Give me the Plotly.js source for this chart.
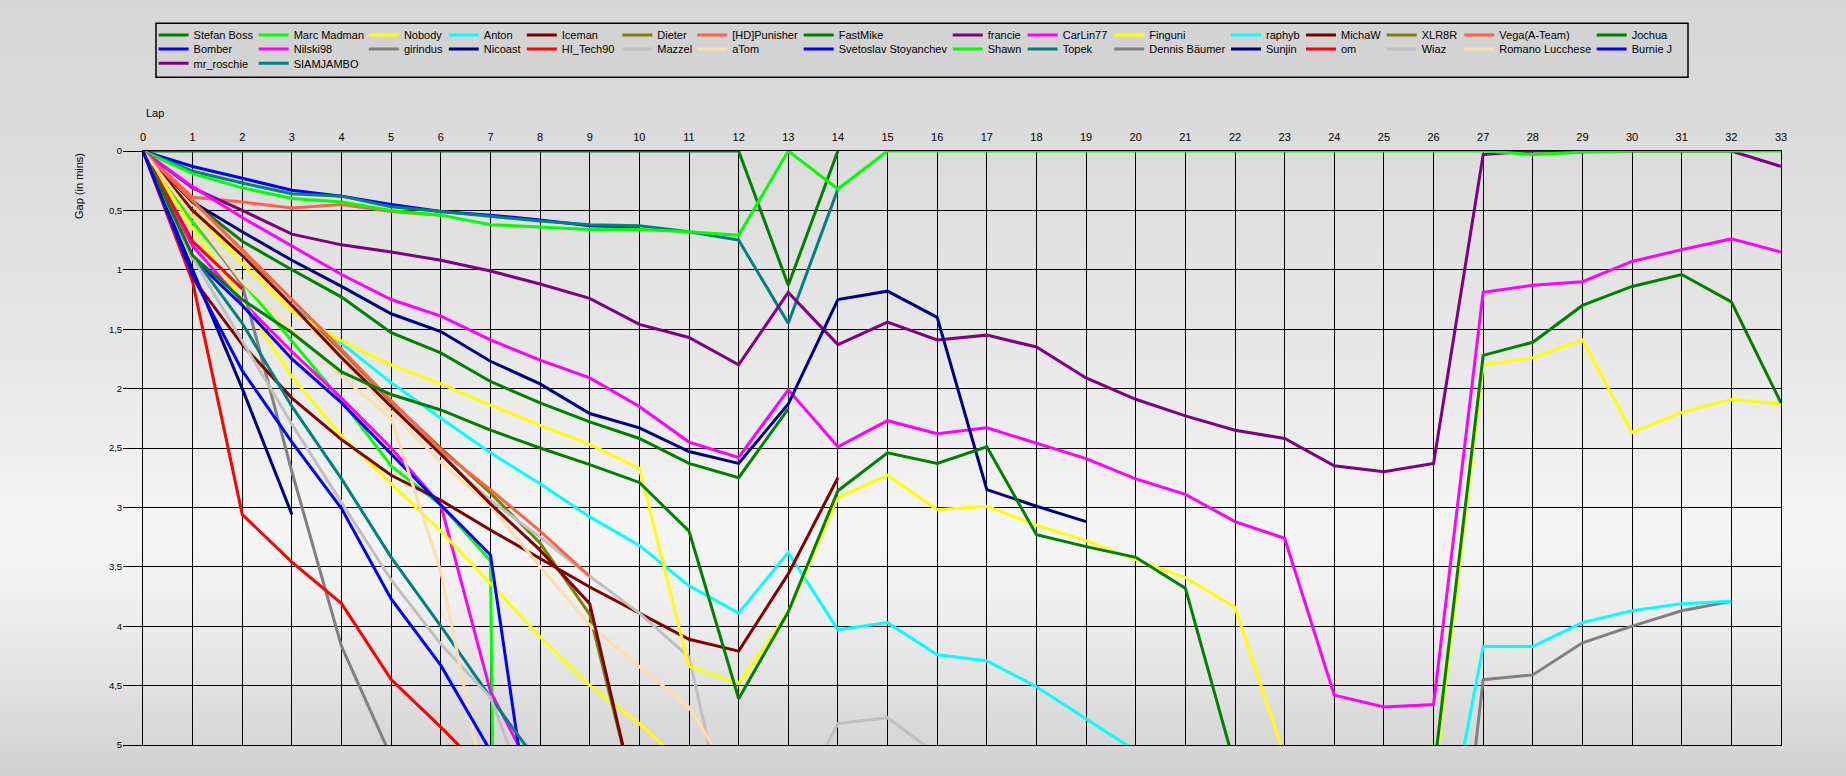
<!DOCTYPE html>
<html><head><meta charset="utf-8">
<script src="https://cdn.plot.ly/plotly-3.0.1.min.js"></script>
<style>html,body{margin:0;padding:0;background:#e2e2e2;}#chart{width:1846px;height:776px;}</style>
</head><body><div id="chart"></div>
<script>
// ---------- data ----------
const laps = [0,1,2,3,4,5,6,7,8,9,10,11,12,13,14,15,16,17,18,19,20,21,22,23,24,25,26,27,28,29,30,31,32,33];

const names = ["Stefan Boss","Bomber","mr_roschie","Marc Madman","Nilski98","SIAMJAMBO","Nobody","girindus",
  "Anton","Nicoast","Iceman","HI_Tech90","Dieter","Mazzel","[HD]Punisher","aTom","FastMike","Svetoslav Stoyanchev",
  "francie","Shawn","CarLin77","Topek","Finguni","Dennis Bäumer","raphyb","Sunjin","MichaW","om","XLR8R","Wiaz",
  "Vega(A-Team)","Romano Lucchese","Jochua","Burnie J"];

const colors = ["#008000","#0000ff","#800080","#00ff00","#ff00ff","#008080","#ffff00","#808080",
  "#00ffff","#000080","#800000","#ff0000","#808000","#c0c0c0","#ff6347","#ffdead","#008000","#0000ff",
  "#800080","#00ff00","#ff00ff","#008080","#ffff00","#808080","#00ffff","#000080","#800000","#ff0000",
  "#808000","#c0c0c0","#ff6347","#ffdead","#008000","#0000ff"];

const stefanBoss = [0,0,0,0,0,0,0,0,0,0,0,0,0,1.13,0];
const bomber = [0,0.13,0.23,0.33,0.38,0.45,0.51,0.54,0.58,0.63,0.64];
const mrRoschie = [0];
const marcMadman = [0,0.6,1.1,1.6,2.1,2.65,2.98,3.45,40];
const nilski98 = [0,0.8,1.27,1.69,2.08,2.5,2.98,4.55,5.35];
const siamjambo = [0,0.17,0.27,0.36,0.38,0.47,0.51,0.55,0.59,0.62,0.63,0.68,0.75,1.45,0.32];
const nobody = [0,0.65,1.25,1.9,2.4,2.8,3.2,3.64,4.09,4.5,4.82,5.2];
const girindus = [0,0.55,1.13,2.7,4.17,5.1];
const anton = [0,0.4,0.85,1.3,1.62,1.95,2.25,2.54,2.8,3.08,3.32,3.66,3.89,3.38,4.03,3.97,4.24,4.29,4.51,4.78,5.05];
const nicoast = [0,1.0,2.0,3.06];
const iceman = [0,1.07,1.63,2.08,2.43,2.73,2.94,3.19,3.43,3.67,3.89,4.11,4.21,3.56,2.75];
const hiTech90 = [0,1.1,3.06,3.46,3.81,4.45,4.85,5.27];
const dieter = [0,0.43,0.85,1.3,1.69,2.11,2.5,2.88,3.3,3.9,5.58];
const mazzel = [0,0.45,0.87,1.3,1.72,2.15,2.56,2.94,3.25,3.58,3.89,4.26,6.1,5.62,4.82,4.77,5.08];
const hdPunisher = [0,0.39,0.43,0.48,0.45,0.51,0.54];
const aTom = [0,0.45,0.88,1.32,1.75,2.2,2.62,2.99,3.5,3.99,4.34,4.68,5.36];
const fastMike = [0,0.43,0.76,1.0,1.23,1.53,1.7,1.94,2.12,2.28,2.42,2.63,2.75,2.17];
const svetoslav = [0,0.9,1.3,1.75,2.12,2.55,2.98,3.4,6.25];
const francie = [0,0.31,0.5,0.7,0.79,0.85,0.92,1.01,1.12,1.24,1.46,1.57,1.8,1.19,1.63,1.44,1.59,1.55,1.65,1.91,2.09,2.23,2.35,2.42,2.65,2.7,2.63,0.03,0,0,0,0,0,0.13];
const shawn = [0,0.19,0.31,0.4,0.43,0.5,0.54,0.62,0.64,0.66,0.66,0.68,0.71,0,0.32,0,0,0,0,0,0,0,0,0,0,0,0,0,0.03,0.01,0,0,0,0];
const carLin77 = [0,0.3,0.56,0.8,1.04,1.25,1.39,1.59,1.76,1.91,2.15,2.45,2.58,2.01,2.49,2.27,2.38,2.33,2.46,2.59,2.76,2.89,3.12,3.26,4.58,4.68,4.66,1.19,1.13,1.1,0.93,0.83,0.74,0.85];
const topek = [0,0.88,1.45,2.15,2.76,3.42,4.0,4.6,5.17];
const finguni = [0,0.5,0.95,1.35,1.6,1.8,1.96,2.14,2.31,2.47,2.67,4.34,4.48,3.88,2.92,2.73,3.02,2.99,3.15,3.28,3.44,3.59,3.84,5.1,null,null,5.35,1.8,1.74,1.59,2.37,2.2,2.09,2.13];
const dennisBaeumer = [null,null,null,null,null,null,null,null,null,null,null,null,null,null,null,null,null,null,null,null,null,null,null,null,null,null,8.1,4.45,4.41,4.14,4.0,3.87,3.79];
const raphyb = [null,null,null,null,null,null,null,null,null,null,null,null,null,null,null,null,null,null,null,null,null,null,null,null,null,null,6.35,4.17,4.17,3.97,3.87,3.81,3.79];
const sunjin = [0,0.43,0.68,0.92,1.14,1.37,1.52,1.77,1.96,2.21,2.33,2.53,2.63,2.13,1.25,1.18,1.4,2.85,2.99,3.12];
const michaW = [0,0.5,0.88,1.3,1.74,2.15,2.55,2.97,3.36,3.81,5.6];
const om = [0,0.76,1.16];
const xlr8r = [0];
const wiaz = [0,0.9,1.6,2.3,2.96,3.61,4.15,4.6,5.7];
const vega = [0,0.42,0.83,1.25,1.67,2.1,2.52,2.85,3.2,3.58];
const romano = [0,0.55,1.1,1.5,1.9,2.25,3.54,5.61];
const jochua = [0,0.88,1.25,1.53,1.86,2.05,2.18,2.35,2.5,2.64,2.79,3.2,4.61,3.88,2.86,2.54,2.63,2.49,3.23,3.33,3.42,3.68,5.18,null,null,null,5.25,1.72,1.61,1.3,1.14,1.04,1.27,2.12];
const burnieJ = [0,1.05,1.85,2.45,3.01,3.77,4.33,5.05];

const series = [stefanBoss,bomber,mrRoschie,marcMadman,nilski98,siamjambo,nobody,girindus,anton,nicoast,
  iceman,hiTech90,dieter,mazzel,hdPunisher,aTom,fastMike,svetoslav,francie,shawn,carLin77,topek,finguni,
  dennisBaeumer,raphyb,sunjin,michaW,om,xlr8r,wiaz,vega,romano,jochua,burnieJ];

// legend layout: items per column (column-major), text x of each column, y of each row (px)
const colSizes = [3,3,2,2,2,2,2,2,2,2,2,2,2,2,2,2];
const colTextX = [193.6,293.7,403.9,483.8,561.8,657.3,732.2,838.7,987.7,1062.7,1149.3,1266,1341,1421.7,1499.3,1631.7];
const rowY = [35,49,63.3];

// ---------- geometry ----------
const W = 1846, H = 776, ML = 143, MR = 65, MT = 151, MB = 31;
const PW = W - ML - MR, PH = H - MT - MB;
const px2x = p => (p - ML) / PW;
const py2y = p => (H - MB - p) / PH;
const FONT = "Liberation Sans, Arial, sans-serif";

const traces = [];
const layout = {
  width: W, height: H,
  margin: {l: ML, r: MR, t: MT, b: MB, pad: 0},
  paper_bgcolor: "#e2e2e2",
  plot_bgcolor: "#ffffff",
  separators: ", ",
  hovermode: false,
  showlegend: true,
  font: {family: FONT, size: 11, color: "#000"},
  xaxis: {
    side: "top", range: [0, 33], autorange: false, dtick: 1, tick0: 0,
    showgrid: true, gridcolor: "#000", gridwidth: 1,
    showline: true, linecolor: "#000", linewidth: 1, mirror: true,
    zeroline: false, ticks: "", ticklabelstandoff: 5,
    tickfont: {family: FONT, size: 11, color: "#000"}, fixedrange: true
  },
  yaxis: {
    range: [5, 0], autorange: false, dtick: 0.5, tick0: 0,
    showgrid: true, gridcolor: "#000", gridwidth: 1,
    showline: true, linecolor: "#000", linewidth: 1, mirror: true,
    zeroline: false, ticks: "outside", ticklen: 19, tickcolor: "#000", tickwidth: 1,
    ticklabelstandoff: -1,
    tickfont: {family: FONT, size: 9.5, color: "#000"}, fixedrange: true
  },
  shapes: [],
  annotations: [
    {text: "Lap", xref: "paper", yref: "paper", x: px2x(144), y: py2y(113), xanchor: "left", yanchor: "middle",
     showarrow: false, font: {family: FONT, size: 11, color: "#000"}},
    {text: "Gap (in mins)", xref: "paper", yref: "paper", x: px2x(79), y: py2y(186), xanchor: "center", yanchor: "middle",
     textangle: -90, showarrow: false, font: {family: FONT, size: 11, color: "#000"}}
  ]
};

// background gradient bands
const gradStops = [[0,214],[150,220],[300,228],[420,236],[530,245],[600,240],[680,226],[745,214],[776,208]];
function grayAt(p){
  for (let i = 1; i < gradStops.length; i++){
    if (p <= gradStops[i][0]){
      const a = gradStops[i-1], b = gradStops[i];
      const t = (p - a[0]) / (b[0] - a[0]);
      return Math.round(a[1] + t * (b[1] - a[1]));
    }
  }
  return gradStops[gradStops.length-1][1];
}
for (let p = 0; p < H; p += 6){
  const g = grayAt(p + 3);
  layout.shapes.push({type: "rect", xref: "paper", yref: "paper", layer: "below",
    x0: px2x(0), x1: px2x(W), y0: py2y(p + 6.5), y1: py2y(p),
    fillcolor: `rgb(${g},${g},${g})`, line: {width: 0}});
}
// legend frame
layout.shapes.push({type: "rect", xref: "paper", yref: "paper", layer: "below",
  x0: px2x(156), x1: px2x(1688), y0: py2y(77.3), y1: py2y(23.3),
  fillcolor: "#d3d3d3", line: {color: "#000", width: 1.5}});

// traces + one legend per entry placed in its grid cell
let idx = 0;
colSizes.forEach((n, c) => {
  for (let r = 0; r < n; r++){
    const i = idx++;
    const data = series[i];
    const key = i === 0 ? "legend" : "legend" + (i + 1);
    layout[key] = {
      x: px2x(colTextX[c] - 40), y: py2y(rowY[r]), xref: "paper", yref: "paper",
      xanchor: "left", yanchor: "middle", orientation: "v",
      bgcolor: "rgba(0,0,0,0)", borderwidth: 0, itemwidth: 30,
      font: {family: FONT, size: 11, color: "#000"}, itemclick: false, itemdoubleclick: false
    };
    traces.push({
      type: "scatter", mode: "lines", name: names[i],
      x: laps.slice(0, data.length), y: data,
      line: {color: colors[i], width: 3}, legend: key,
      connectgaps: false, hoverinfo: "skip"
    });
  }
});

Plotly.newPlot("chart", traces, layout, {displayModeBar: false, staticPlot: true});
</script></body></html>
